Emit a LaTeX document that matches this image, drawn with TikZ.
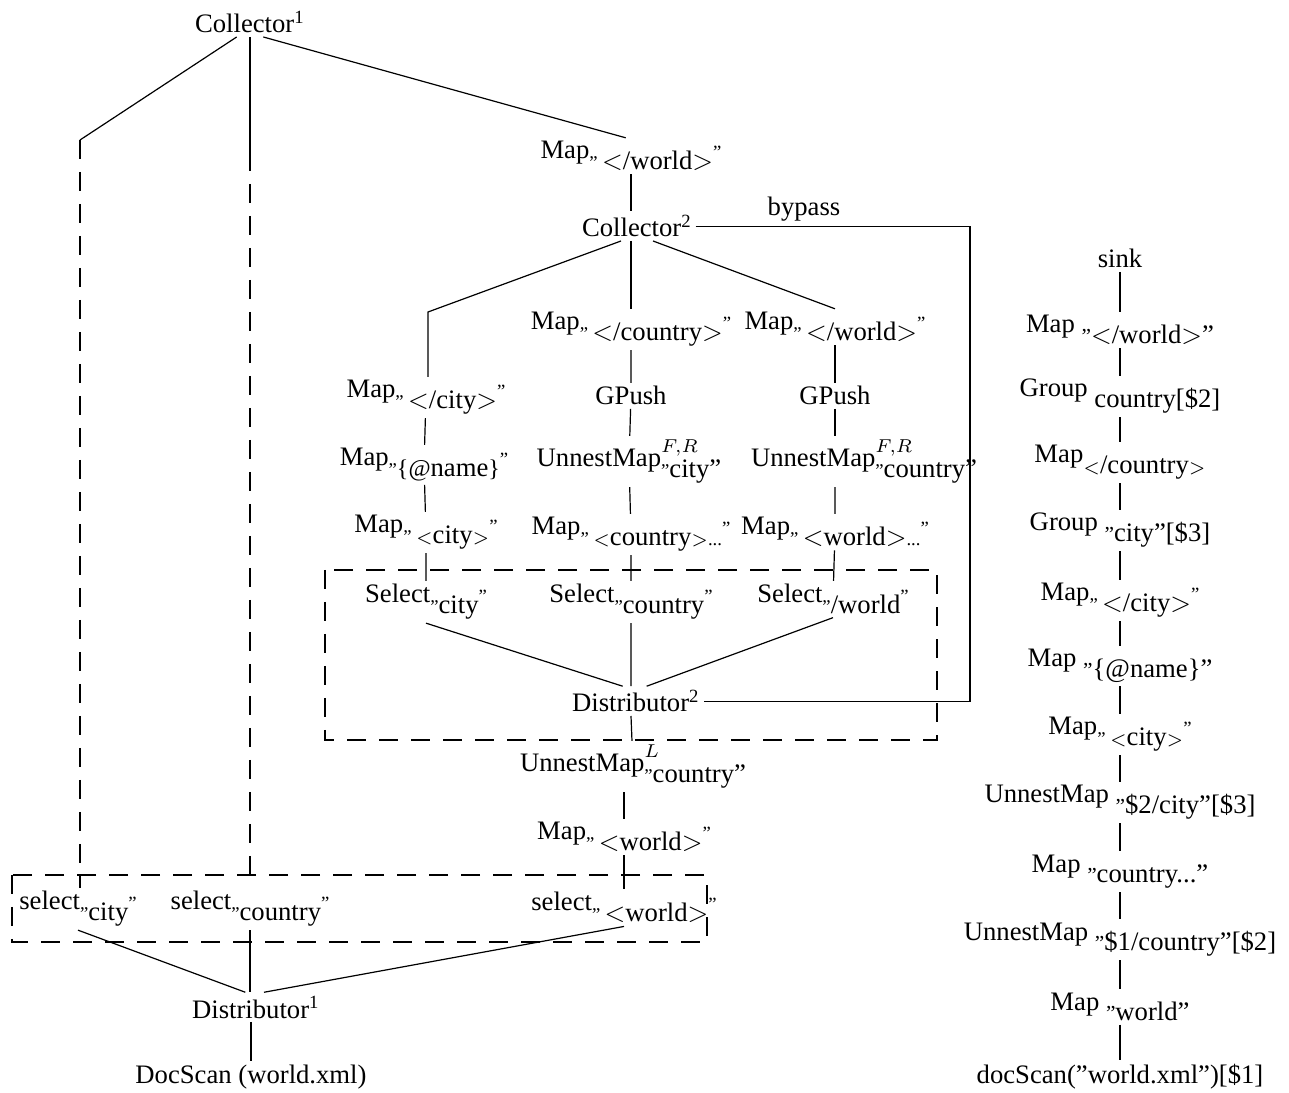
\documentclass[tikz,border=0pt]{standalone}
\usepackage{fontspec}
\setmainfont{Liberation Serif}
\usepackage{tikz}
\usetikzlibrary{calc}
\newcommand{\lo}[1]{\raisebox{-4pt}{#1}}
\newcommand{\hi}[1]{\rlap{\raisebox{5.5pt}{$\scriptstyle #1$}}}
\newcommand{\oq}{{\scriptsize„}}
\newcommand{\cq}{{\scriptsize”}}
\newcommand{\fq}{{\footnotesize”}}

\begin{document}
\begin{tikzpicture}[
  x=0.375pt, y=-0.375pt,
  lb/.style={anchor=base, inner sep=1.2pt, font=\fontsize{10}{12}\selectfont},
  ln/.style={line width=0.45pt},
  dsh/.style={line width=0.45pt, dash pattern=on 7pt off 5pt},
]
\useasboundingbox (0,0) rectangle (1289,1093);
% left plan
\node[lb] (c1) at (250,33) {Collector\textsuperscript{1}};
\node[lb] (mapW0) at (631,159) {Map\oq\lo{\,$<$/world$>$}\cq};
\node[lb] (c2) at (637,237) {Collector\textsuperscript{2}};
\node[lb] (bypass) at (804,216) {bypass};
\node[lb] (mapCity) at (426,398) {Map\oq\lo{\,$<$/city$>$}\cq};
\node[lb] (mapName) at (424,466) {Map\oq\lo{{\small\{@}name{\small\}}}\cq};
\node[lb] (mapCityO) at (426,533) {Map\oq\lo{\,$\scriptstyle<$city$\scriptstyle>$}\cq};
\node[lb] (mapCtry) at (631,330) {Map\oq\lo{\,$<$/country$>$}\cq};
\node[lb] (gp1) at (631,405) {GPush};
\node[lb] (un1) at (629,467) {UnnestMap\hi{F,R}\oq\lo{city”}};
\node[lb] (mapCtryO) at (631,535) {Map\oq\lo{\,$\scriptstyle<$country$\scriptstyle>${\scriptsize...}}\cq};
\node[lb] (mapW1) at (835,330) {Map\oq\lo{\,$<$/world$>$}\cq};
\node[lb] (gp2) at (835,405) {GPush};
\node[lb] (un2) at (864,467) {UnnestMap\hi{F,R}\oq\lo{country”}};
\node[lb] (mapWO1) at (835,535) {Map\oq\lo{\,$<$world$>${\scriptsize...}}\cq};
\node[lb] (selCity) at (426,603) {Select\oq\lo{city}\cq};
\node[lb] (selCtry) at (631,603) {Select\oq\lo{country}\cq};
\node[lb] (selW) at (833,603) {Select\oq\lo{/world}\cq};
\node[lb] (d2) at (636,712) {Distributor\textsuperscript{2}};
\node[lb] (unL) at (633,772) {UnnestMap\hi{L}\oq\lo{country”}};
\node[lb] (mapWo) at (624,840) {Map\oq\lo{\,$<$world$>$}\cq};
\node[lb] (sCity) at (78,910) {select\oq\lo{city}\cq};
\node[lb] (sCtry) at (250,910) {select\oq\lo{country}\cq};
\node[lb] (sW) at (624,911) {select\oq\lo{\,$<$world$>$}\cq};
\node[lb] (d1) at (256,1018) {Distributor\textsuperscript{1}};
\node[lb] (scan) at (251,1083) {DocScan (world.xml)};
\coordinate (cL) at (80,140);
\coordinate (cM) at (250,152);
\coordinate (cLL) at (428,312);
\coordinate (bp) at (970,500);

\draw[ln] ([xshift=-5pt]c1.south) -- (cL);
\draw[dsh] (cL) -- (cL |- sCity.north);
\draw[ln] (c1.south) -- (cM);
\draw[dsh] (cM) -- (sCtry.north);
\draw[ln] ([xshift=5pt]c1.south) -- ([xshift=-2pt]mapW0.north);
\draw[ln] (mapW0) -- (mapW0 |- c2.north);
\draw[ln] ([xshift=-6pt]c2.south) -- (cLL) -- (cLL |- mapCity.north);
\draw[ln] (c2.south -| mapCtry) -- (mapCtry);
\draw[ln] ([xshift=6pt]c2.south) -- (mapW1.north);
\draw[ln] (c2.east) -| (bp) |- (d2.east);
% columns
\draw[ln] (mapCity) -- (mapName) -- (mapCityO) -- (selCity);
\draw[ln] (mapCtry) -- (gp1) -- (un1) -- (mapCtryO) -- (selCtry) -- (selCtry |- d2.north);
\draw[ln] (d2.south -| selCtry) -- (unL);
\draw[ln] (mapW1) -- (gp2) -- (gp2 |- un2.north);
\draw[ln] (gp2 |- un2.south) -- (mapWO1) -- (selW);
\draw[ln] (selCity.south) -- ([xshift=-5pt]d2.north);
\draw[ln] (selW.south) -- ([xshift=4pt]d2.north);
\draw[ln] (unL.south -| mapWo) -- (mapWo) -- (sW);
\draw[ln] (sCity.south) -- ([xshift=-4pt]d1.north);
\draw[ln] (sCtry.south) -- (sCtry.south |- d1.north);
\draw[ln] (sW.south) -- ([xshift=3pt]d1.north);
\draw[ln] (d1.south -| scan) -- (scan);
% dashed groups
\draw[dsh] (325,570) rectangle (937,740);
\draw[dsh] (12,875) rectangle (707,942);

% right plan
\node[lb] (sink) at (1120,268) {sink};
\node[lb] (r1) at (1120,333) {Map \lo{\fq$<$/world$>$”}};
\node[lb] (r2) at (1120,397) {Group \lo{country[\$2]}};
\node[lb] (r3) at (1120,463) {Map\lo{$\scriptstyle<$/country$\scriptstyle>$}};
\node[lb] (r4) at (1120,531) {Group \lo{\fq city”[\$3]}};
\node[lb] (r5) at (1120,601) {Map\oq\lo{\,$<$/city$>$}\cq};
\node[lb] (r6) at (1120,667) {Map \lo{\fq\{@name\}”}};
\node[lb] (r7) at (1120,735) {Map\oq\lo{\,$\scriptstyle<$city$\scriptstyle>$}\cq};
\node[lb] (r8) at (1120,803) {UnnestMap \lo{\fq\$2/city”[\$3]}};
\node[lb] (r9) at (1120,872) {Map \lo{\fq country...”}};
\node[lb] (r10) at (1120,940) {UnnestMap \lo{\fq\$1/country”[\$2]}};
\node[lb] (r11) at (1120,1010) {Map \lo{\fq world”}};
\node[lb] (r12) at (1120,1083) {docScan(”world.xml”)[\$1]};
\draw[ln] (sink) -- (r1) -- (r2) -- (r3) -- (r4) -- (r5) -- (r6) -- (r7) -- (r8) -- (r9) -- (r10) -- (r11) -- (r12);
\end{tikzpicture}
\end{document}
